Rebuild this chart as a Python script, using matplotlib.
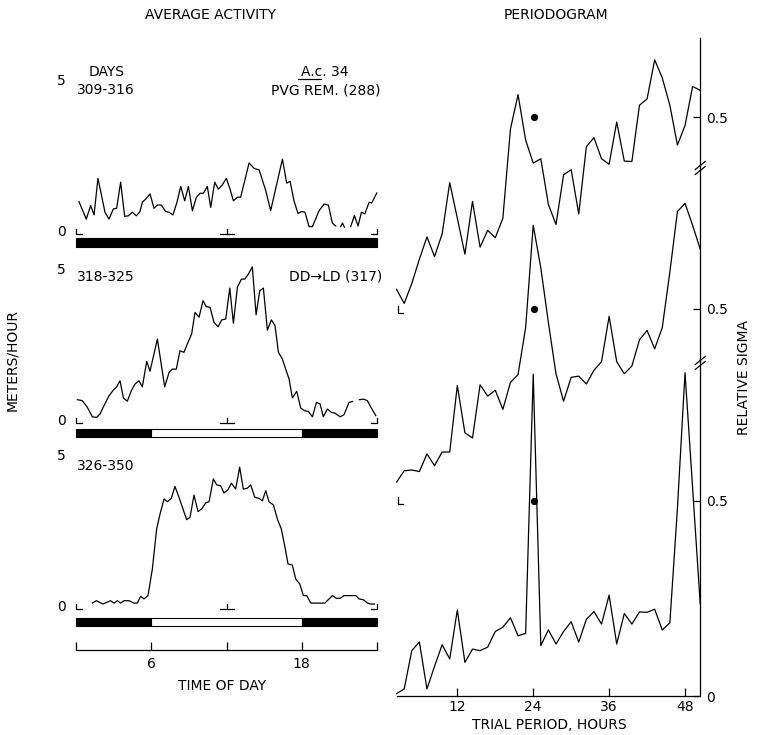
import numpy as np
import matplotlib
matplotlib.use("Agg")
import matplotlib.pyplot as plt
from matplotlib.patches import Rectangle

plt.rcParams['font.family'] = ['DejaVu Sans']

# ---------------- data: average activity (meters/hour) vs time of day ----------------
h1 = [0.24, 0.82, 1.17, 1.44, 1.75, 2.31, 2.63, 2.98, 3.24, 3.56, 3.88, 4.17, 4.49, 4.81, 5.10,
      5.29, 5.56, 5.90, 6.22, 6.49, 6.80, 7.15, 7.42, 7.73, 8.05, 8.35, 8.67, 8.96, 9.28, 9.60,
      9.89, 10.16, 10.47, 10.74, 11.06, 11.35, 11.67, 11.99, 12.28, 12.55, 12.87, 13.13, 13.80,
      14.20, 14.60, 15.13, 15.52, 16.46, 16.80, 17.07, 17.38, 17.70, 18.00, 18.26, 18.58, 18.85,
      19.38, 19.78, 20.12, 20.44, 20.71, 20.95, 21.10, 21.25, 21.40, 21.65, 21.90, 22.20, 22.49,
      22.76, 23.03, 23.37, 23.58, 23.98]
v1 = [0.91, 0.33, 0.78, 0.47, 1.69, 0.56, 0.33, 0.67, 0.69, 1.56, 0.42, 0.44, 0.56, 0.44, 0.58,
      0.89, 1.00, 1.17, 0.69, 0.80, 0.80, 0.58, 0.56, 0.47, 0.89, 1.42, 0.94, 1.42, 0.61, 1.06,
      1.19, 1.19, 1.42, 0.72, 1.56, 1.33, 1.47, 1.69, 1.33, 0.94, 1.06, 1.06, 2.20,
      2.02, 1.97, 1.28, 0.61, 2.33, 1.53, 1.59, 0.94, 0.52, 0.58, 0.56, 0.08, 0.08,
      0.61, 0.83, 0.80, 0.20, 0.10, np.nan, 0.08, 0.20, 0.06, np.nan, 0.08, 0.45, 0.10,
      0.56, 0.50, 0.89, 0.87, 1.20]

h2 = [0.11, 0.50, 0.90, 1.30, 1.65, 1.91, 2.23, 2.63, 2.98, 3.24, 3.51, 3.78, 4.09, 4.41, 4.70,
      5.02, 5.29, 5.64, 5.90, 6.49, 7.07, 7.42, 7.68, 8.00, 8.29, 8.61, 8.93, 9.22, 9.49, 9.81,
      10.13, 10.39, 10.69, 11.00, 11.33, 11.62, 11.94, 12.26, 12.55, 12.87, 13.19, 13.45, 13.72,
      14.06, 14.36, 14.65, 14.94, 15.26, 15.58, 15.87, 16.14, 16.45, 16.72, 16.99, 17.25, 17.60,
      17.92, 18.24, 18.53, 18.85, 19.17, 19.46, 19.72, 20.04, 20.36, 20.66, 21.06, 21.37, 21.77,
      22.05, 22.25, 22.60, 22.91, 23.23, 23.55, 23.90]
v2 = [0.61, 0.58, 0.36, 0.04, 0.02, 0.13, 0.41, 0.74, 0.93, 1.04, 1.24, 0.67, 0.56, 0.91, 1.13,
      1.24, 1.04, 1.89, 1.56, 2.63, 1.04, 1.52, 1.63, 1.63, 2.24, 2.19, 2.52, 2.80, 3.52, 3.36,
      3.91, 3.71, 3.69, 3.19, 3.04, 3.27, 3.30, 4.33, 3.16, 4.36, 4.63, 4.63, 4.78,
      5.04, 3.44, 4.24, 4.33, 2.93, 3.27, 3.08, 2.19, 1.97, 1.63, 1.30, 0.67, 0.89,
      0.33, 0.24, 0.22, 0.04, 0.52, 0.47, 0.04, 0.30, 0.19, 0.16, 0.04, 0.11, 0.52,
      0.55, np.nan, 0.61, 0.63, 0.58, 0.33, 0.08]

h3 = [1.30, 1.62, 2.15, 2.76, 3.03, 3.30, 3.56, 3.83, 4.23, 4.63, 4.89, 5.16, 5.42, 5.74, 6.09,
      6.43, 6.70, 7.02, 7.28, 7.60, 7.89, 8.21, 8.53, 8.82, 9.09, 9.41, 9.73, 10.02, 10.34, 10.61,
      10.95, 11.22, 11.54, 11.80, 12.12, 12.39, 12.73, 13.05, 13.34, 13.66, 13.93, 14.25, 14.59,
      14.86, 15.13, 15.39, 15.74, 16.06, 16.37, 16.64, 16.91, 17.25, 17.52, 17.84, 18.13, 18.40,
      18.72, 19.25, 19.84, 20.45, 20.76, 21.06, 21.37, 22.31, 22.57, 22.92, 23.24, 23.51, 23.80]
v3 = [0.03, 0.11, 0.00, 0.11, 0.03, 0.11, 0.03, 0.11, 0.11, 0.03, 0.03, 0.26, 0.17, 0.28, 1.17,
      2.50, 3.00, 3.50, 3.41, 3.52, 3.92, 3.56, 3.17, 2.81, 2.89, 3.63, 3.08, 3.17, 3.37, 3.41,
      4.17, 3.97, 3.94, 3.70, 3.81, 4.03, 3.83, 4.56, 3.83, 3.86, 3.97, 3.56, 3.52,
      3.44, 3.78, 3.41, 3.30, 2.83, 2.50, 1.94, 1.33, 1.30, 0.83, 0.67, 0.28, 0.28,
      0.03, 0.03, 0.03, 0.28, 0.19, 0.19, 0.28, 0.28, 0.17, 0.14, 0.03, 0.00, 0.00]

light_on = [None, 6, 6]
light_off = [None, 18, 18]
day_labels = ["309-316", "318-325", "326-350"]
time_ticks = [0, 6, 12, 18, 24]
time_labels = ["", "6", "", "18", ""]

# ---------------- data: periodogram (relative sigma) vs trial period ----------------
periods = [2.4, 3.6, 4.8, 6.0, 7.2, 8.4, 9.6, 10.8, 12.0, 13.2, 14.4, 15.6, 16.8, 18.0,
           19.2, 20.4, 21.6, 22.8, 24.0, 25.2, 26.4, 27.6, 28.8, 30.0, 31.2, 32.4, 33.6,
           34.8, 36.0, 37.2, 38.4, 39.6, 40.8, 42.0, 43.2, 44.4, 45.6, 46.8, 48.0, 49.2, 50.4]
sig_top = [0.060, 0.024, 0.075, 0.137, 0.194, 0.144, 0.202, 0.333, 0.242, 0.150, 0.285, 0.168,
           0.211, 0.192, 0.242, 0.470, 0.558, 0.442, 0.383, 0.394, 0.277, 0.226, 0.353, 0.366,
           0.253, 0.425, 0.448, 0.394, 0.380, 0.488, 0.388, 0.387, 0.531, 0.547, 0.647, 0.601,
           0.531, 0.429, 0.479, 0.579, 0.569]
sig_mid = [0.057, 0.086, 0.088, 0.084, 0.129, 0.099, 0.134, 0.134, 0.304, 0.183, 0.170, 0.306,
           0.277, 0.292, 0.243, 0.312, 0.332, 0.452, 0.714, 0.605, 0.465, 0.334, 0.264, 0.325,
           0.328, 0.308, 0.343, 0.365, 0.481, 0.365, 0.334, 0.354, 0.421, 0.445, 0.398, 0.452,
           0.594, 0.749, 0.770, 0.714, 0.653]
sig_bot = [0.006, 0.018, 0.116, 0.138, 0.018, 0.076, 0.131, 0.095, 0.220, 0.086, 0.120, 0.116,
           0.125, 0.165, 0.176, 0.200, 0.154, 0.160, 0.823, 0.129, 0.169, 0.133, 0.165, 0.190,
           0.138, 0.196, 0.216, 0.184, 0.258, 0.133, 0.211, 0.184, 0.215, 0.214, 0.222, 0.169,
           0.187, 0.480, 0.827, 0.532, 0.236]
sig_offsets = [0.98, 0.49, 0.0]     # vertical stacking of the three periodograms
dot_period = 24.2
dot_level = 0.5
period_ticks = [12, 24, 36, 48]
sigma_ticks = [0.0] + [0.5 + o for o in sig_offsets[::-1]]
sigma_labels = ["0", "0.5", "0.5", "0.5"]

# ---------------- figure ----------------
W, H = 760, 735
fig = plt.figure(figsize=(W / 100, H / 100), dpi=100)
LW = 0.9
FS = 10


def add_ax(x0, x1, ytop, ybot):
    return fig.add_axes([x0 / W, 1 - ybot / H, (x1 - x0) / W, (ybot - ytop) / H])


def ftext(x, y, s, **kw):
    kw.setdefault('va', 'center')
    kw.setdefault('ha', 'center')
    kw.setdefault('fontsize', FS)
    return fig.text(x / W, 1 - y / H, s, **kw)


# left panels: (hours, values, y of "5", y of "0", bar top px, bar bottom px)
X0, X1 = 76, 377
panels = [(h1, v1, 79, 229, 238, 247),
          (h2, v2, 268, 418, 429, 437),
          (h3, v3, 454, 604, 618, 626)]
upx = 30.0          # pixels per meter/hour unit
hpx = (X1 - X0) / 24.0

for k, (hh, vv, ytop, yzero, btop, bbot) in enumerate(panels):
    ax = add_ax(X0, X1, ytop, yzero)
    ax.set_xlim(0, 24)
    ax.set_ylim(0, 5)
    ax.axis('off')
    ax.plot(hh, vv, color='black', lw=LW, clip_on=False)
    m = 5 / upx  # 5 px mark length
    ax.plot([0, 0, 6 / hpx], [0, -m, -m], color='black', lw=LW, clip_on=False)
    ax.plot([24, 24, 24 - 6 / hpx], [0, -m, -m], color='black', lw=LW, clip_on=False)
    ax.plot([12, 12], [0, -m], color='black', lw=LW, clip_on=False)
    ax.plot([12 - 7 / hpx, 12 + 7 / hpx], [-m, -m], color='black', lw=LW, clip_on=False)
    yb = -(bbot - yzero) / upx
    hb = (bbot - btop) / upx
    if light_on[k] is None:
        ax.add_patch(Rectangle((0, yb), 24, hb, fc='black', ec='black', lw=0.8, clip_on=False))
    else:
        ax.add_patch(Rectangle((0, yb), light_on[k], hb, fc='black', ec='black', lw=0.8, clip_on=False))
        ax.add_patch(Rectangle((light_on[k], yb), light_off[k] - light_on[k], hb, fc='white',
                               ec='black', lw=0.8, clip_on=False))
        ax.add_patch(Rectangle((light_off[k], yb), 24 - light_off[k], hb, fc='black', ec='black',
                               lw=0.8, clip_on=False))
    ftext(66, ytop + 2, "5", ha='right')
    ftext(66, yzero + 3, "0", ha='right')

# texts in left panels
ftext(107, 72, "DAYS")
ftext(77, 90, day_labels[0], ha='left')
ftext(77, 277, day_labels[1], ha='left')
ftext(77, 466, day_labels[2], ha='left')
ftext(381, 90, "PVG REM. (288)", ha='right')
ftext(325, 72, "A.c. 34")
fig.add_artist(plt.Line2D([298 / W, 321 / W], [1 - 79 / H, 1 - 79 / H], color='black', lw=0.9))
ftext(382, 277, "DD\u2192LD (317)", ha='right')

# time-of-day axis
axt = add_ax(X0, X1, 630, 650)
axt.set_xlim(0, 24)
axt.set_ylim(0, 1)
for s in ['left', 'right', 'top']:
    axt.spines[s].set_visible(False)
axt.spines['bottom'].set_linewidth(LW)
axt.set_yticks([])
axt.set_xticks(time_ticks)
axt.set_xticklabels(time_labels)
axt.tick_params(axis='x', direction='in', length=6, width=LW, labelsize=FS, pad=5)
axt.patch.set_alpha(0)
ftext(222, 686, "TIME OF DAY")

# periodogram
P0, P1 = 396.6, 700.2
YT, YB = 38, 696
upp = 391.0
axp = add_ax(P0, P1, YT, YB)
axp.set_xlim(periods[0], periods[-1])
axp.set_ylim(0, (YB - YT) / upp)
axp.patch.set_alpha(0)
for vals, off in zip([sig_top, sig_mid, sig_bot], sig_offsets):
    axp.plot(periods, np.array(vals) + off, color='black', lw=LW, clip_on=False)
    axp.plot([dot_period], [dot_level + off], 'o', color='black', ms=4.2, clip_on=False)
ppx = (P1 - P0) / (periods[-1] - periods[0])
for off in sig_offsets[:2]:
    axp.plot([2.65, 2.65, 2.65 + 5 / ppx], [off + 7 / upp, off, off], color='black', lw=LW,
             clip_on=False)
for s in ['left', 'top']:
    axp.spines[s].set_visible(False)
axp.spines['bottom'].set_linewidth(LW)
axp.spines['right'].set_linewidth(LW)
axp.set_xticks(period_ticks)
axp.tick_params(axis='x', direction='in', length=6, width=LW, labelsize=FS, pad=3)
axp.yaxis.tick_right()
axp.set_yticks(sigma_ticks)
axp.set_yticklabels(sigma_labels)
axp.tick_params(axis='y', direction='in', length=5, width=LW, labelsize=FS, pad=4)
# axis breaks
for ybpx in [363, 168]:
    yb = (YB - ybpx) / upp
    for d in (-2.5, 2.5):
        axp.plot([periods[-1] - 5 / ppx, periods[-1] + 5 / ppx],
                 [yb + (d - 4) / upp, yb + (d + 4) / upp], color='black', lw=LW, clip_on=False)

ftext(549, 725, "TRIAL PERIOD, HOURS")
ftext(744, 378, "RELATIVE SIGMA", rotation=90)
ftext(12, 360, "METERS/HOUR", rotation=90)
ftext(210, 15, "AVERAGE ACTIVITY")
ftext(556, 15, "PERIODOGRAM")

fig.savefig("out.png", dpi=100)
